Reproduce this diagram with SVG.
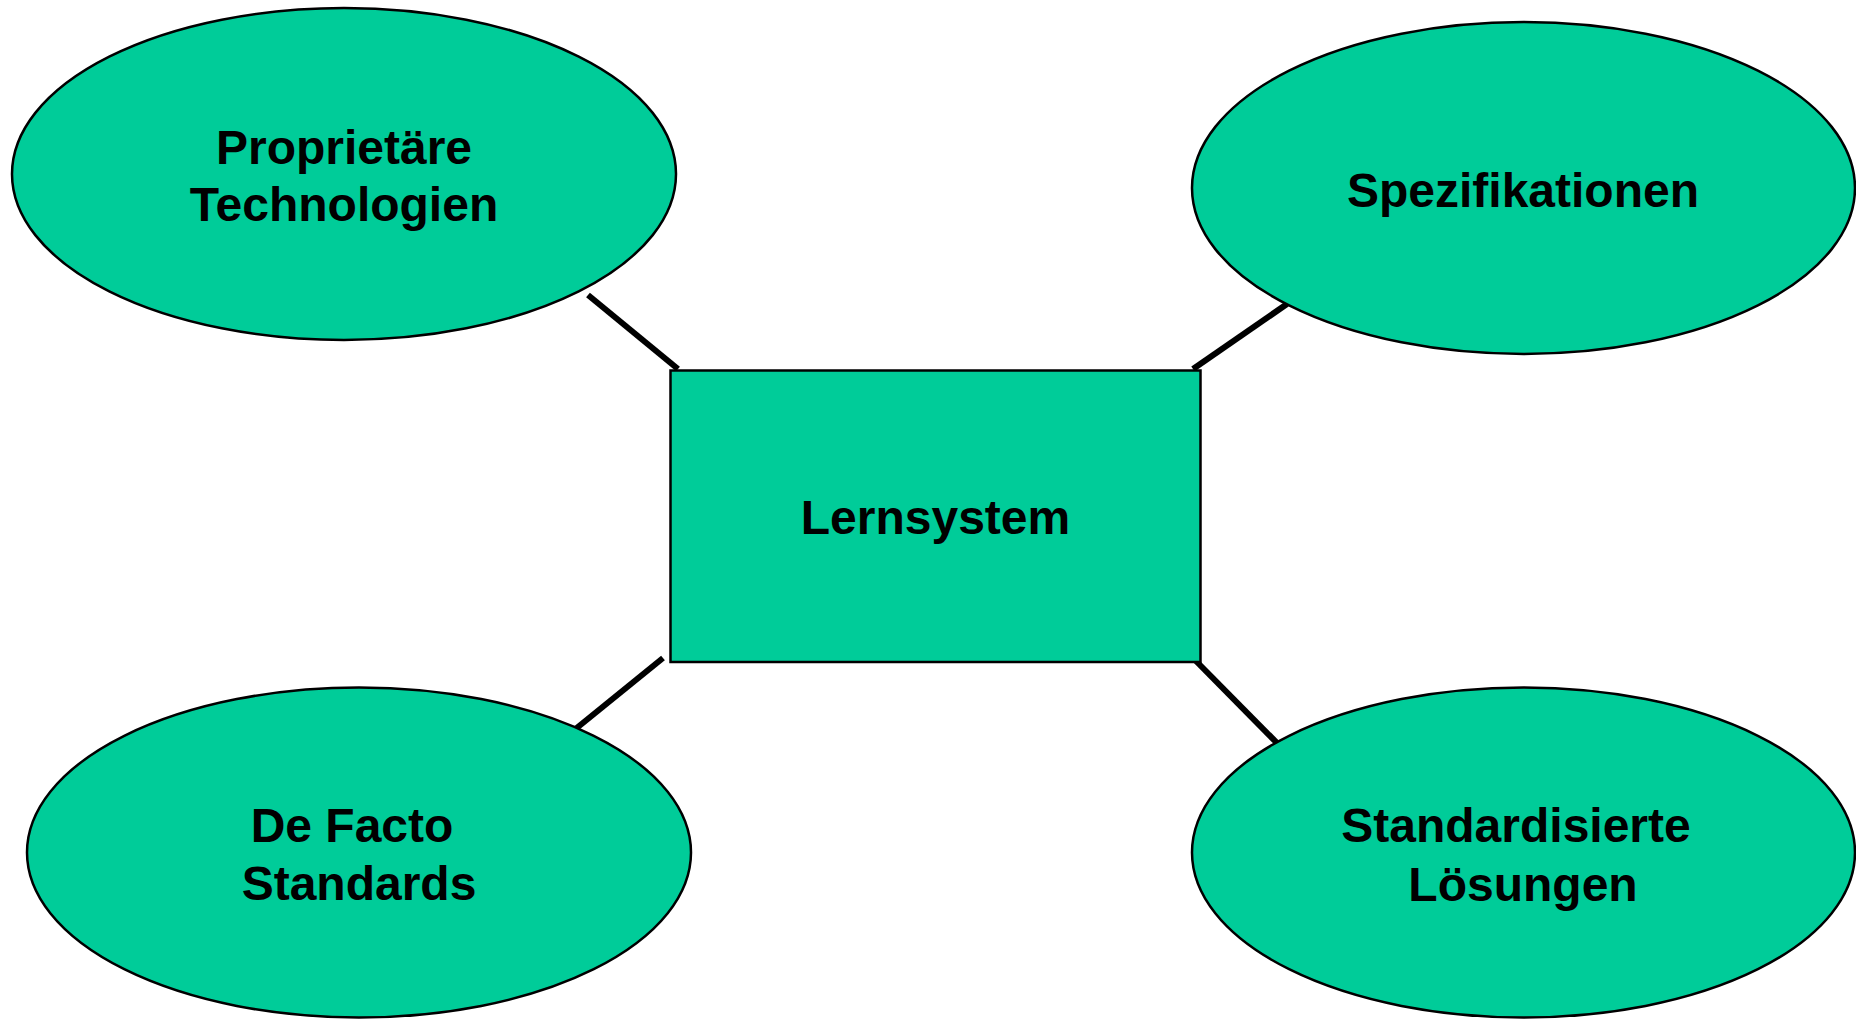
<svg xmlns="http://www.w3.org/2000/svg" width="1856" height="1019" viewBox="0 0 1856 1019">
  <style>
    .node { fill: #00CC99; stroke: #000000; stroke-width: 2.5; }
    .label { font-family: "Liberation Sans", Arial, sans-serif; font-weight: bold; font-size: 48px; fill: #000000; text-anchor: middle; }
    .conn { stroke: #000000; stroke-width: 6; stroke-linecap: butt; fill: none; }
  </style>
  <rect width="1856" height="1019" fill="#ffffff"/>

  <!-- connectors from the central box to the four surrounding ellipses -->
  <g id="connectors">
    <line class="conn" x1="588" y1="295" x2="678" y2="369"/>
    <line class="conn" x1="1193" y1="369" x2="1287" y2="304"/>
    <line class="conn" x1="573" y1="731" x2="663" y2="658"/>
    <line class="conn" x1="1195" y1="660" x2="1281" y2="747"/>
  </g>

  <g id="proprietaere-technologien">
    <ellipse class="node" cx="344" cy="174" rx="332" ry="166"/>
    <text class="label" x="344" y="164">Proprietäre</text>
    <text class="label" x="344" y="221">Technologien</text>
  </g>

  <g id="spezifikationen">
    <ellipse class="node" cx="1523.5" cy="188" rx="331.5" ry="166"/>
    <text class="label" x="1523" y="207">Spezifikationen</text>
  </g>

  <g id="de-facto-standards">
    <ellipse class="node" cx="359" cy="852.5" rx="332" ry="165"/>
    <text class="label" x="352" y="842">De Facto</text>
    <text class="label" x="359" y="900">Standards</text>
  </g>

  <g id="standardisierte-loesungen">
    <ellipse class="node" cx="1523.5" cy="852.5" rx="331.5" ry="165"/>
    <text class="label" x="1516" y="842">Standardisierte</text>
    <text class="label" x="1523" y="901">Lösungen</text>
  </g>

  <g id="lernsystem">
    <rect class="node" x="670.5" y="370.5" width="530" height="291.5"/>
    <text class="label" x="935.5" y="534">Lernsystem</text>
  </g>
</svg>
